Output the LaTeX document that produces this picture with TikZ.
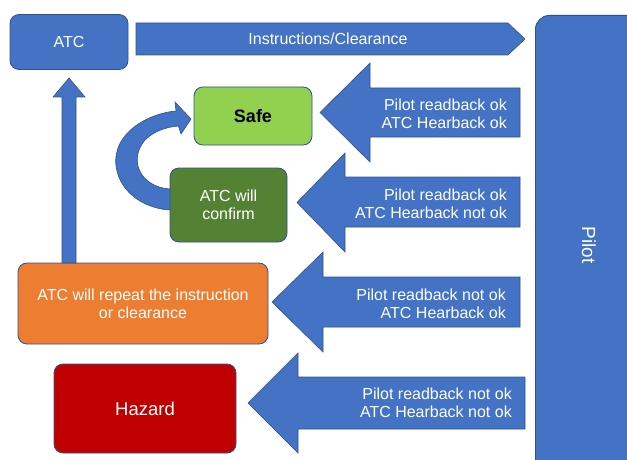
\documentclass[tikz,border=0pt]{standalone}
\usepackage{fontspec}
\setmainfont{Liberation Sans}
\usetikzlibrary{arrows.meta}
\definecolor{pblue}{HTML}{4472C4}
\definecolor{pedge}{HTML}{2F528F}
\definecolor{safegreen}{HTML}{92D050}
\definecolor{darkgreen}{HTML}{548235}
\definecolor{porange}{HTML}{ED7D31}
\definecolor{pred}{HTML}{C00000}
\begin{document}
\begin{tikzpicture}[x=1pt,y=-1pt,
  box/.style={draw=pedge, line width=0.8pt, rounded corners=9pt, inner sep=0pt, align=center},
  blk/.style={fill=pblue, draw=pedge, line width=0.6pt},
  lbl/.style={text=white, font=\fontsize{16}{18}\selectfont, align=right, anchor=east, inner sep=0pt},
  wtxt/.style={text=white, font=\fontsize{16}{18}\selectfont}
]
\useasboundingbox (0,0) rectangle (627,460);
\clip (0,0) rectangle (627,460);

% Pilot box
\node[box, fill=pblue, rounded corners=14pt, minimum width=110pt, minimum height=470pt, anchor=north west] (pilot) at (535,15) {};
\node[rotate=-90, text=white, font=\fontsize{19}{22}\selectfont] (pilotlbl) at (589,245) {Pilot};

% ATC box
\node[box, fill=pblue, minimum width=118pt, minimum height=55pt, wtxt] (atc) at (69,42) {ATC};

% Top arrow
\path[blk] (136,23) -- (508,23) -- (525,39) -- (508,55) -- (136,55) -- cycle;
\node[wtxt] (instr) at (328,39) {Instructions/Clearance};

% Curved arrow (behind confirm box)
\path[blk] (170,189) .. controls (140,187) and (128,160) .. (145,140)
  .. controls (155,130) and (168,127) .. (178.5,126) -- (181,134) -- (191,119) -- (175,102) -- (176,111)
  .. controls (150,113) and (112,132) .. (116,166)
  .. controls (120,196) and (150,210) .. (172,210) -- cycle;

% Boxes
\node[box, fill=safegreen, minimum width=118pt, minimum height=58pt, font=\bfseries\fontsize{18}{20}\selectfont] (safe) at (253,116) {Safe};
\node[box, fill=darkgreen, minimum width=117pt, minimum height=74pt, wtxt] (confirm) at (228.5,205) {ATC will\\confirm};
\node[box, fill=porange, minimum width=250pt, minimum height=81pt, wtxt] (repeat) at (143,303.5) {ATC will repeat the instruction\\or clearance};
\node[box, fill=pred, minimum width=182pt, minimum height=89pt, text=white, font=\fontsize{18.5}{20}\selectfont] (hazard) at (145,408.5) {Hazard};

% Up arrow from repeat box to ATC
\path[blk] (62,263) -- (62,97) -- (53,97) -- (69,78) -- (85,97) -- (76,97) -- (76,263) -- cycle;

% Block arrows from pilot
\path[blk] (520,88) -- (370,88) -- (370,63) -- (320,112.5) -- (370,162) -- (370,137) -- (520,137) -- cycle;
\node[lbl] (t1) at (507,113.5) {Pilot readback ok\\ATC Hearback ok};

\path[blk] (520,177) -- (345,177) -- (345,153) -- (297,202.5) -- (345,252) -- (345,227) -- (520,227) -- cycle;
\node[lbl] (t2) at (507,204) {Pilot readback ok\\ATC Hearback not ok};

\path[blk] (520,277) -- (323,277) -- (323,252) -- (272,302) -- (323,352) -- (323,327) -- (520,327) -- cycle;
\node[lbl] (t3) at (506,304) {Pilot readback not ok\\ATC Hearback ok};

\path[blk] (525,377) -- (298,377) -- (298,353) -- (248,403) -- (298,453) -- (298,429) -- (525,429) -- cycle;
\node[lbl] (t4) at (512,403) {Pilot readback not ok\\ATC Hearback not ok};
\end{tikzpicture}
\end{document}
